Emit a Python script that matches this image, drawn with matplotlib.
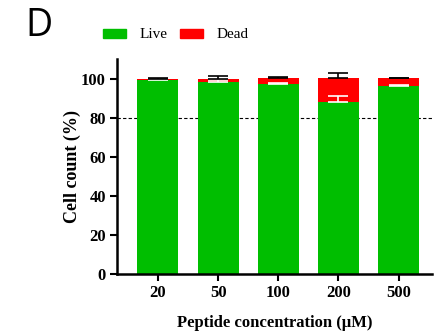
import numpy as np
import matplotlib
matplotlib.use('Agg')
import matplotlib.pyplot as plt
from matplotlib.patches import Patch

# data
conc = ['20', '50', '100', '200', '500']
live = [99.3, 98.1, 97.1, 87.8, 96.0]
dead = [0.4, 1.5, 3.1, 12.4, 4.2]
live_err = [0.4, 0.9, 0.8, 3.1, 0.7]
dead_err = [0.5, 1.6, 0.8, 2.5, 0.3]

green = '#00BE00'
red = '#FF0000'
serif = ['Liberation Serif', 'DejaVu Serif']

fig = plt.figure(figsize=(4.35, 3.36), dpi=100)
ax = fig.add_axes([0.269, 0.1845, 0.724, 0.64])

x = np.arange(len(conc))
w = 0.68
ax.axhline(80, color='black', ls=(0, (3, 2)), lw=0.8, zorder=1)
ax.bar(x, live, w, color=green, zorder=2)
ax.bar(x, dead, w, bottom=live, color=red, zorder=2)

# error bars, upward only
ax.errorbar(x, live, yerr=[np.zeros(5), live_err], fmt='none', ecolor='white',
            elinewidth=1.2, capsize=7.5, capthick=1.2, zorder=3)
tot = np.array(live) + np.array(dead)
ax.errorbar(x, tot, yerr=[np.zeros(5), dead_err], fmt='none', ecolor='black',
            elinewidth=1.2, capsize=7.5, capthick=1.2, zorder=3)

ax.set_xlim(-0.68, 4.555)
ax.set_ylim(0, 110)
ax.set_yticks([0, 20, 40, 60, 80, 100])
ax.set_xticks(x)
ax.set_xticklabels(conc)
for s in ['top', 'right']:
    ax.spines[s].set_visible(False)
for s in ['left', 'bottom']:
    ax.spines[s].set_linewidth(1.8)
ax.tick_params(axis='both', direction='out', length=5, width=1.5, pad=3)
for lab in ax.get_xticklabels() + ax.get_yticklabels():
    lab.set_family(serif)
    lab.set_fontweight('bold')
    lab.set_fontsize(12)

ax.set_ylabel('Cell count (%)', family=serif, fontweight='bold', fontsize=13, labelpad=0)
ax.set_xlabel('Peptide concentration (μM)', family=serif, fontweight='bold', fontsize=12, labelpad=10)

handles = [Patch(color=green, label='Live'), Patch(color=red, label='Dead')]
fig.legend(handles=handles, loc='center', bbox_to_anchor=(176 / 435, 1 - 35 / 336),
           ncol=2, frameon=False, prop={'family': serif, 'size': 11},
           handlelength=1.5, handleheight=0.52, columnspacing=0.8, handletextpad=0.9)

fig.text(25 / 435, 1 - 26 / 336, 'D', family=['Open Sans', 'DejaVu Sans'], fontsize=27,
         va='center', ha='left')

fig.savefig('out.png', dpi=100)
